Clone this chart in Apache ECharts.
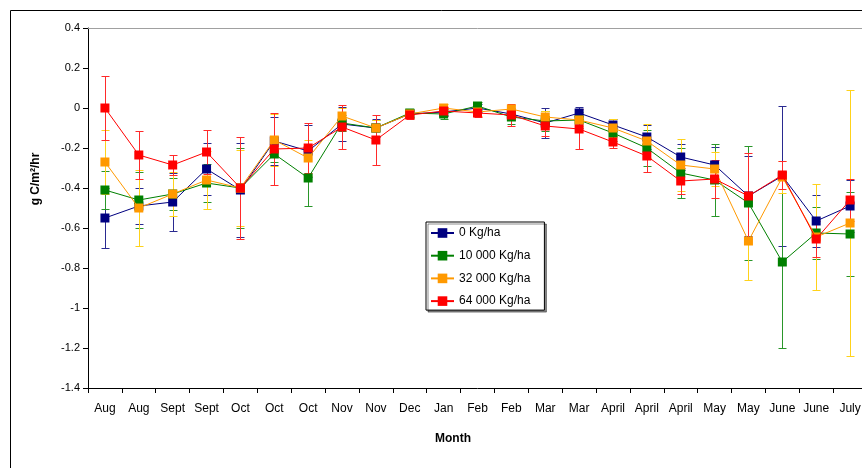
<!DOCTYPE html>
<html><head><meta charset="utf-8">
<script src="https://cdn.jsdelivr.net/npm/echarts@6/dist/echarts.min.js"></script>
<style>html,body{margin:0;padding:0;background:#fff;overflow:hidden}#c{width:872px;height:468px}</style>
</head><body><div id="c"></div>
<script>
const categories = ["Aug","Aug","Sept","Sept","Oct","Oct","Oct","Nov","Nov","Dec","Jan","Feb","Feb","Mar","Mar","April","April","April","May","May","June","June","July"];
const seriesNames = ["0 Kg/ha","10 000 Kg/ha","32 000 Kg/ha","64 000 Kg/ha"];
const v0 = [-0.55,-0.49,-0.47,-0.305,-0.41,-0.165,-0.215,-0.08,-0.10,-0.03,-0.02,0.0,-0.03,-0.075,-0.025,-0.085,-0.145,-0.245,-0.285,-0.44,-0.34,-0.565,-0.49];
const e0 = [0.15,0.09,0.145,0.13,0.235,0.12,0.13,0.085,0.045,0.02,0.02,0.02,0.03,0.075,0.03,0.03,0.06,0.065,0.09,0.2,0.35,0.13,0.13];
const v1 = [-0.41,-0.46,-0.43,-0.375,-0.40,-0.23,-0.35,-0.075,-0.10,-0.025,-0.03,0.01,-0.045,-0.065,-0.06,-0.125,-0.20,-0.325,-0.36,-0.475,-0.77,-0.625,-0.63];
const e1 = [0.095,0.14,0.08,0.095,0.2,0.04,0.14,0.04,0.04,0.02,0.025,0.02,0.035,0.05,0.04,0.04,0.09,0.125,0.18,0.285,0.43,0.13,0.21];
const v2 = [-0.27,-0.50,-0.43,-0.36,-0.40,-0.16,-0.25,-0.04,-0.10,-0.03,0.0,-0.02,-0.005,-0.045,-0.06,-0.10,-0.165,-0.285,-0.305,-0.665,-0.345,-0.645,-0.575];
const e2 = [0.16,0.19,0.11,0.145,0.19,0.13,0.09,0.04,0.04,0.02,0.02,0.02,0.02,0.03,0.03,0.045,0.085,0.13,0.087,0.195,0.08,0.265,0.665];
const v3 = [0.0,-0.235,-0.285,-0.22,-0.40,-0.205,-0.20,-0.095,-0.16,-0.035,-0.015,-0.025,-0.035,-0.09,-0.105,-0.17,-0.24,-0.365,-0.355,-0.44,-0.335,-0.655,-0.46];
const e3 = [0.16,0.12,0.05,0.11,0.255,0.18,0.125,0.11,0.125,0.02,0.02,0.02,0.055,0.05,0.1,0.03,0.08,0.065,0.095,0.215,0.07,0.09,0.105];

const values = [v0,v1,v2,v3];
const errors = [e0,e1,e2,e3];
const colors = ['#000080','#008000','#FF9900','#FF0000'];
const errColors = ['#2a2a90','#2a962a','#FFD21A','#FF2a2a'];

const FONT = 'Liberation Sans, Arial, sans-serif';
const chart = echarts.init(document.getElementById('c'), null, {renderer:'canvas'});

const series = [];
values.forEach((vals, s) => {
  series.push({
    type: 'custom',
    name: seriesNames[s] + ' err',
    z: 1,
    silent: true,
    data: vals.map((v, i) => [i, v - errors[s][i], v + errors[s][i]]),
    encode: {x: 0, y: [1, 2]},
    renderItem: function (params, api) {
      const i = api.value(0);
      const lo = api.coord([i, api.value(1)]);
      const hi = api.coord([i, api.value(2)]);
      const x = Math.round(lo[0]) + 0.5;
      const cap = 4;
      const st = {stroke: errColors[s], lineWidth: 1};
      return {
        type: 'group',
        children: [
          {type: 'line', shape: {x1: x, y1: hi[1], x2: x, y2: lo[1]}, style: st},
          {type: 'line', shape: {x1: x - cap, y1: Math.round(hi[1]) + 0.5, x2: x + cap, y2: Math.round(hi[1]) + 0.5}, style: st},
          {type: 'line', shape: {x1: x - cap, y1: Math.round(lo[1]) + 0.5, x2: x + cap, y2: Math.round(lo[1]) + 0.5}, style: st}
        ]
      };
    }
  });
});
values.forEach((vals, s) => {
  series.push({
    type: 'line',
    name: seriesNames[s],
    data: vals,
    z: 2 + s,
    symbol: 'rect',
    symbolSize: 9,
    showAllSymbol: true,
    lineStyle: {color: colors[s], width: 1},
    itemStyle: {color: colors[s]},
    emphasis: {disabled: true}
  });
});

chart.setOption({
  animation: false,
  backgroundColor: '#fff',
  grid: {left: 88, top: 28, right: 5, bottom: 80},
  xAxis: [{
    type: 'category',
    data: categories,
    boundaryGap: true,
    axisLine: {onZero: false, lineStyle: {color: '#000', width: 1}},
    axisTick: {show: true, length: 5, lineStyle: {color: '#000'}, interval: 0},
    axisLabel: {interval: 0, color: '#000', fontFamily: FONT, fontSize: 12, margin: 15},
    splitLine: {show: false}
  }, {
    type: 'category',
    data: categories,
    position: 'top',
    axisLine: {onZero: false, lineStyle: {color: '#a0a0a0', width: 1}},
    axisTick: {show: false},
    axisLabel: {show: false},
    splitLine: {show: false}
  }],
  yAxis: {
    type: 'value',
    min: -1.4, max: 0.4, interval: 0.2,
    axisLine: {show: true, lineStyle: {color: '#000', width: 1}},
    axisTick: {show: true, length: 5, lineStyle: {color: '#000'}},
    axisLabel: {color: '#000', fontFamily: FONT, fontSize: 11, margin: 8,
      formatter: v => String(Math.round(v * 10) / 10)},
    splitLine: {show: false}
  },
  legend: {
    orient: 'vertical',
    left: 426, top: 222,
    data: seriesNames,
    itemWidth: 23, itemHeight: 12, itemGap: 10.7,
    padding: [5, 14, 3, 4],
    borderColor: '#000', borderWidth: 1,
    backgroundColor: '#fff',
    shadowColor: 'rgba(0,0,0,0.45)', shadowOffsetX: 2, shadowOffsetY: 2, shadowBlur: 0,
    textStyle: {color: '#000', fontFamily: FONT, fontSize: 12}
  },
  graphic: [
    {type: 'rect', shape: {x: 10.5, y: 10.5, width: 1000, height: 1000}, style: {fill: 'none', stroke: '#000', lineWidth: 1}, z: -10, silent: true},
    {type: 'text', x: 36, y: 179, rotation: Math.PI / 2, style: {text: 'g C/m²/hr', font: 'bold 12px ' + FONT, fill: '#000', textAlign: 'center', textVerticalAlign: 'middle'}},
    {type: 'text', x: 453, y: 439, style: {text: 'Month', font: 'bold 12px ' + FONT, fill: '#000', textAlign: 'center', textVerticalAlign: 'middle'}}
  ],
  series: series
});
</script>
</body></html>
